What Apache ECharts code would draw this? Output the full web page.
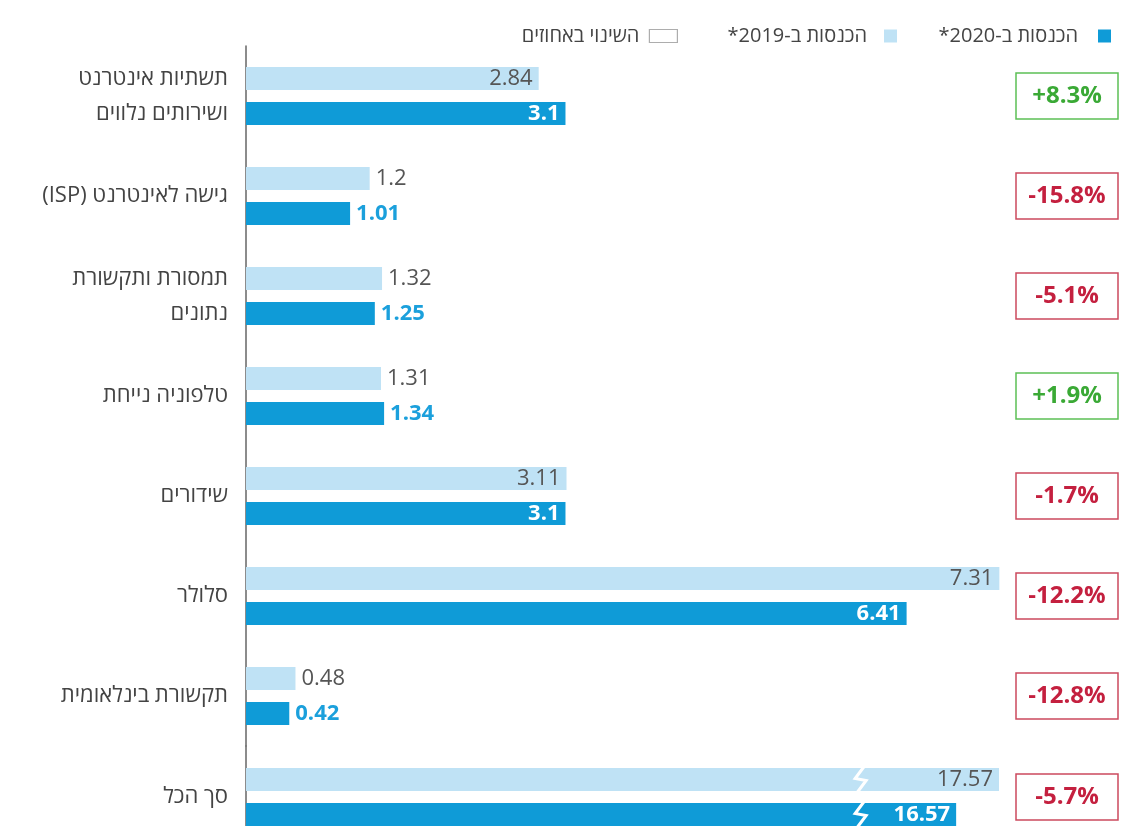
<!DOCTYPE html>
<html><head><meta charset="utf-8">
<script src="https://cdn.jsdelivr.net/npm/echarts@6/dist/echarts.min.js"></script>
<style>html,body{margin:0;padding:0;background:#fff;overflow:hidden}#wrap{width:1128px;height:826px;overflow:hidden;position:relative}#c{width:1128px;height:860px}</style>
</head><body><div id="wrap"><div id="c"></div></div>
<script>
// ---- data ----
const categories = ['תשתיות אינטרנט\nושירותים נלווים', 'גישה לאינטרנט (ISP)', 'תמסורת ותקשורת\nנתונים', 'טלפוניה נייחת', 'שידורים', 'סלולר', 'תקשורת בינלאומית'];
const rev2019 = [2.84, 1.2, 1.32, 1.31, 3.11, 7.31, 0.48];
const rev2020 = [3.1, 1.01, 1.25, 1.34, 3.1, 6.41, 0.42];
const changePct = ['+8.3%', '-15.8%', '-5.1%', '+1.9%', '-1.7%', '-12.2%', '-12.8%'];
const totalCategory = ['סך הכל'];
const total2019 = [17.57];
const total2020 = [16.57];
const totalChange = ['-5.7%'];
const name2020 = 'הכנסות ב-2020*';
const name2019 = 'הכנסות ב-2019*';
const nameChange = 'השינוי באחוזים';
const totalBreakAt = 14.33; // where the broken-bar zigzag sits on the totals axis

// ---- styling ----
const FONT = "'Open Sans', 'DejaVu Sans', sans-serif";
const LIGHT = '#bfe2f5';
const DARK = '#0f9bd7';
const rtl = s => s.split('\n').map(l => '\u202B' + l + '\u202C').join('\n');

function lightItem(v) {
  const inside = v >= 2;
  return { value: v, label: { show: true, position: inside ? 'insideRight' : 'right', distance: 6,
    color: '#555', fontSize: 22, fontFamily: FONT } };
}
function darkItem(v) {
  const inside = v >= 2;
  return { value: v, label: { show: true, position: inside ? 'insideRight' : 'right', distance: 6,
    color: inside ? '#fff' : '#1ba0dc', fontSize: 22, fontWeight: 'bold', fontFamily: FONT } };
}

const catAxisBase = {
  type: 'category', inverse: true,
  axisLine: { show: true, lineStyle: { color: '#666', width: 1.5 } },
  axisTick: { show: false },
  axisLabel: { fontSize: 22, color: '#444', fontFamily: FONT, margin: 18, lineHeight: 35, formatter: rtl }
};
const boxStyle = { borderWidth: 1.5, width: 102, height: 46, lineHeight: 46, align: 'center',
  fontSize: 24, fontWeight: 'bold', fontFamily: FONT };
const pctAxisBase = {
  type: 'category', inverse: true, position: 'right',
  axisLine: { show: false }, axisTick: { show: false },
  axisLabel: {
    inside: true, margin: 4,
    formatter: v => (v[0] === '+' ? '{pos|' : '{neg|') + v + '}',
    rich: {
      pos: Object.assign({ color: '#3aa935', borderColor: '#5cc056' }, boxStyle),
      neg: Object.assign({ color: '#c4203f', borderColor: '#cc4a5e' }, boxStyle)
    }
  }
};
const barBase = { type: 'bar', barWidth: 23, barGap: '52%' };
const legendText = (pad) => ({ fontSize: 20, color: '#444', fontFamily: FONT, padding: [0, pad, 0, 0] });

const chart = echarts.init(document.getElementById('c'), null, { renderer: 'canvas' });
chart.setOption({
  backgroundColor: '#fff',
  animation: false,
  legend: [
    { data: [name2020], right: 12, top: 21, align: 'right', icon: 'rect', itemWidth: 13, itemHeight: 13,
      formatter: rtl, textStyle: legendText(15) },
    { data: [name2019], right: 226, top: 21, align: 'right', icon: 'rect', itemWidth: 13, itemHeight: 13,
      formatter: rtl, textStyle: legendText(12) },
    { data: [{ name: nameChange, icon: 'rect', itemStyle: { color: '#fff', borderColor: '#999', borderWidth: 1.2 } }],
      right: 445, top: 21, align: 'right', itemWidth: 28, itemHeight: 13,
      formatter: rtl, textStyle: legendText(5) }
  ],
  grid: [
    { left: 246, top: 46, width: 876, height: 700 },
    { left: 246, top: 746, width: 876, height: 102 }
  ],
  xAxis: [
    { type: 'value', gridIndex: 0, min: 0, max: 8.5, show: false },
    { type: 'value', gridIndex: 1, min: 0, max: 20.44, show: false }
  ],
  yAxis: [
    Object.assign({}, catAxisBase, { gridIndex: 0, data: categories }),
    Object.assign({}, pctAxisBase, { gridIndex: 0, data: changePct }),
    Object.assign({}, catAxisBase, { gridIndex: 1, data: totalCategory }),
    Object.assign({}, pctAxisBase, { gridIndex: 1, data: totalChange })
  ],
  series: [
    Object.assign({}, barBase, { name: name2019, xAxisIndex: 0, yAxisIndex: 0, itemStyle: { color: LIGHT }, data: rev2019.map(lightItem) }),
    Object.assign({}, barBase, { name: name2020, xAxisIndex: 0, yAxisIndex: 0, itemStyle: { color: DARK }, data: rev2020.map(darkItem) }),
    Object.assign({}, barBase, { name: name2019, xAxisIndex: 1, yAxisIndex: 2, itemStyle: { color: LIGHT }, data: total2019.map(lightItem) }),
    Object.assign({}, barBase, { name: name2020, xAxisIndex: 1, yAxisIndex: 2, itemStyle: { color: DARK }, data: total2020.map(darkItem) }),
    {
      type: 'custom', xAxisIndex: 1, yAxisIndex: 2, z: 5, silent: true,
      encode: { x: 0, y: 1 },
      data: [[totalBreakAt, 0]],
      renderItem: (params, api) => {
        const c = api.coord([api.value(0), api.value(1)]);
        const h = 12;
        const children = [-17.5, 17.5].map(dy => ({
          type: 'polyline',
          shape: { points: [[c[0] + 4, c[1] + dy - h - 1], [c[0] - 5, c[1] + dy - 1], [c[0] + 6, c[1] + dy + 1], [c[0] - 3, c[1] + dy + h + 1]] },
          style: { stroke: '#fff', lineWidth: 3, fill: null }
        }));
        return { type: 'group', children };
      }
    },
    { type: 'scatter', name: nameChange, xAxisIndex: 0, yAxisIndex: 0, data: [],
      itemStyle: { color: '#fff', borderColor: '#999', borderWidth: 1.2 } }
  ]
});
</script></body></html>
